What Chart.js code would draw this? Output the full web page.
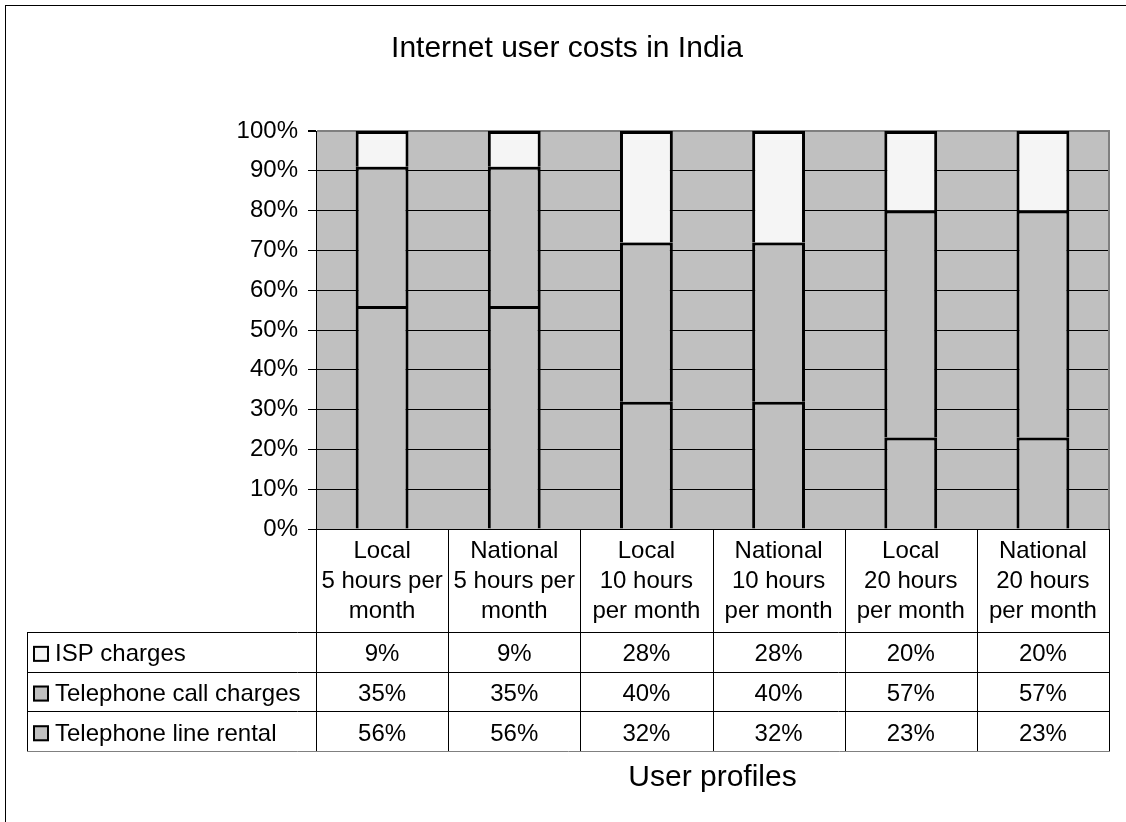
<!DOCTYPE html>
<html>
<head>
<meta charset="utf-8">
<title>Internet user costs in India</title>
<script src="https://cdn.jsdelivr.net/npm/chart.js@4/dist/chart.umd.min.js"></script>
<style>
  html, body { margin: 0; padding: 0; background: #ffffff; }
  #wrap { width: 1126px; height: 822px; position: relative; }
</style>
</head>
<body>
<div id="wrap"><canvas id="chart" width="1126" height="822"></canvas></div>
<script>
// Categories (user profiles), one multi-line label each
const categories = [
  ["Local", "5 hours per", "month"],
  ["National", "5 hours per", "month"],
  ["Local", "10 hours", "per month"],
  ["National", "10 hours", "per month"],
  ["Local", "20 hours", "per month"],
  ["National", "20 hours", "per month"]
];

// Share of total cost, in percent
const lineRental  = [56, 56, 32, 32, 23, 23];
const callCharges = [35, 35, 40, 40, 57, 57];
const ispCharges  = [9, 9, 28, 28, 20, 20];

const seriesNames = ["Telephone line rental", "Telephone call charges", "ISP charges"];
const yTicks = [0, 10, 20, 30, 40, 50, 60, 70, 80, 90, 100];

const titleText = "Internet user costs in India";
const axisTitle = "User profiles";

const FONT = "'Liberation Sans', Arial, Helvetica, sans-serif";
const GREY = "#c0c0c0";
const LIGHT = "#f5f5f5";

// Data table rows, top to bottom (reverse of stacking order)
const tableRows = [
  { name: seriesNames[2], values: ispCharges, fill: LIGHT },
  { name: seriesNames[1], values: callCharges, fill: GREY },
  { name: seriesNames[0], values: lineRental, fill: GREY }
];

const ROW_TOP = 632;
const ROW_H = 39.7;
const TABLE_LEFT = 27;

const frame = {
  id: "frame",
  beforeDraw(chart) {
    const { ctx, chartArea: a } = chart;
    ctx.save();
    ctx.fillStyle = "#ffffff";
    ctx.fillRect(0, 0, chart.width, chart.height);
    ctx.fillStyle = GREY;
    ctx.fillRect(a.left, a.top, a.right - a.left, a.bottom - a.top);
    ctx.restore();
  },
  afterDraw(chart) {
    const { ctx, chartArea: a } = chart;
    const x = chart.scales.x;
    const half = (x.getPixelForValue(1) - x.getPixelForValue(0)) / 2;
    ctx.save();

    // outer chart frame
    ctx.strokeStyle = "#000";
    ctx.lineWidth = 1;
    ctx.strokeRect(5.5, 5.5, 1300, 1000);

    // title
    ctx.fillStyle = "#000";
    ctx.font = "30px " + FONT;
    ctx.textAlign = "center";
    ctx.textBaseline = "alphabetic";
    ctx.fillText(titleText, 567, 57);

    // plot area right border
    ctx.strokeStyle = "#808080";
    ctx.lineWidth = 2;
    ctx.beginPath();
    ctx.moveTo(a.right, a.top - 1);
    ctx.lineTo(a.right, a.bottom);
    ctx.stroke();

    // data table grid
    const tableBottom = ROW_TOP + ROW_H * tableRows.length;
    ctx.lineWidth = 1;
    ctx.strokeStyle = "#000";
    ctx.beginPath();
    for (let i = 0; i <= categories.length; i++) {
      const px = Math.round(x.getPixelForValue(i) - half) + 0.5;
      ctx.moveTo(px, a.bottom);
      ctx.lineTo(px, tableBottom);
    }
    ctx.moveTo(TABLE_LEFT + 0.5, ROW_TOP);
    ctx.lineTo(TABLE_LEFT + 0.5, tableBottom);
    for (let r = 0; r < tableRows.length; r++) {
      const py = Math.round(ROW_TOP + r * ROW_H) + 0.5;
      ctx.moveTo(TABLE_LEFT, py);
      ctx.lineTo(a.right, py);
    }
    ctx.stroke();
    ctx.strokeStyle = "#808080";
    ctx.beginPath();
    const by = Math.round(tableBottom) + 0.5;
    ctx.moveTo(TABLE_LEFT, by);
    ctx.lineTo(a.right + 1, by);
    ctx.stroke();

    // table rows: legend key, series name, values
    ctx.font = "24px " + FONT;
    ctx.textBaseline = "middle";
    tableRows.forEach((row, r) => {
      const cy = ROW_TOP + r * ROW_H + ROW_H / 2;
      ctx.fillStyle = row.fill;
      ctx.fillRect(33, cy - 6, 16, 16);
      ctx.strokeStyle = "#000";
      ctx.lineWidth = 2;
      ctx.strokeRect(34, cy - 5, 14, 14);
      ctx.fillStyle = "#000";
      ctx.textAlign = "left";
      ctx.fillText(row.name, 55, cy + 3);
      ctx.textAlign = "center";
      row.values.forEach((v, i) => {
        ctx.fillText(v + "%", x.getPixelForValue(i), cy + 3);
      });
    });
    ctx.restore();
  }
};

new Chart(document.getElementById("chart"), {
  type: "bar",
  data: {
    labels: categories,
    datasets: [
      { label: seriesNames[0], data: lineRental, backgroundColor: GREY },
      { label: seriesNames[1], data: callCharges, backgroundColor: GREY },
      { label: seriesNames[2], data: ispCharges, backgroundColor: LIGHT }
    ]
  },
  options: {
    responsive: false,
    animation: false,
    devicePixelRatio: 1,
    layout: { padding: { left: 0, top: 131, right: 17, bottom: 0 } },
    datasets: {
      bar: {
        borderColor: "#000",
        borderWidth: 3,
        borderSkipped: "start",
        categoryPercentage: 1,
        barPercentage: 0.4
      }
    },
    plugins: {
      legend: { display: false },
      title: { display: false },
      tooltip: { enabled: false }
    },
    scales: {
      x: {
        stacked: true,
        offset: true,
        grid: { display: false },
        border: { display: true, color: "#000", width: 1 },
        ticks: {
          color: "#000",
          padding: -1,
          maxRotation: 0,
          autoSkip: false,
          font: { family: FONT, size: 24, lineHeight: 1.25 }
        },
        title: {
          display: true,
          text: axisTitle,
          color: "#000",
          font: { family: FONT, size: 30, lineHeight: 1.2 },
          padding: { top: 0, bottom: 26 }
        },
        afterFit(scale) { scale.height = 822 - 529; }
      },
      y: {
        stacked: true,
        min: 0,
        max: 100,
        afterBuildTicks(scale) { scale.ticks = yTicks.map(v => ({ value: v })); },
        grid: {
          color: ctx => (ctx.tick && ctx.tick.value === 100 ? "#808080" : "#000"),
          lineWidth: ctx => (ctx.tick && ctx.tick.value === 100 ? 2 : 1),
          tickColor: "#000",
          tickLength: 8
        },
        border: { display: true, color: "#000", width: 1 },
        ticks: {
          color: "#000",
          padding: 10,
          font: { family: FONT, size: 24 },
          callback: v => v + "%"
        },
        afterFit(scale) { scale.width = 316; }
      }
    }
  },
  plugins: [frame]
});
</script>
</body>
</html>
